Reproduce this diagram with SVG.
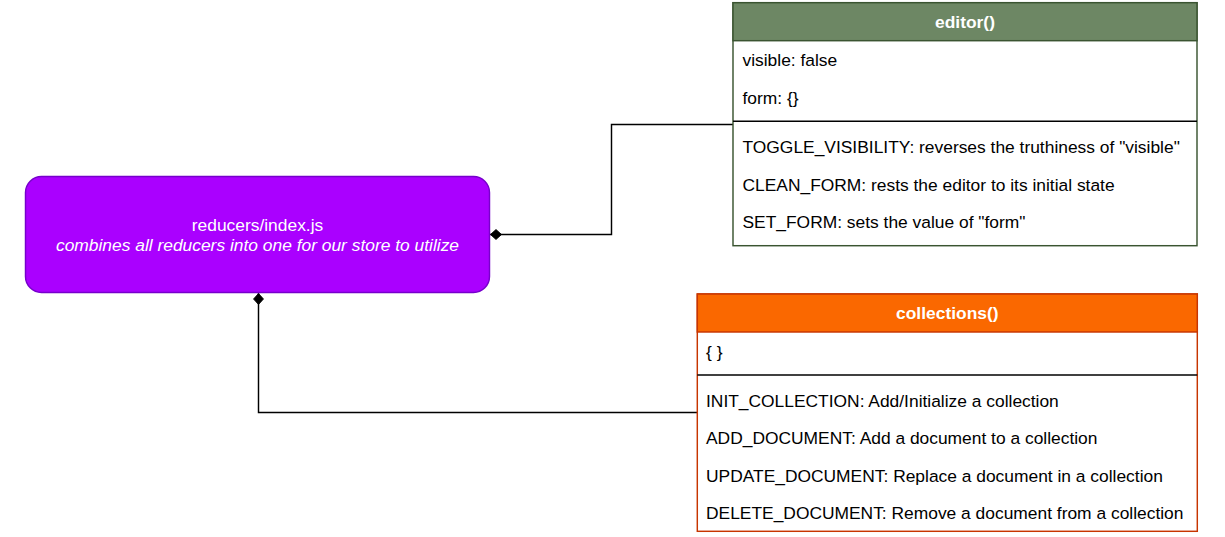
<svg xmlns="http://www.w3.org/2000/svg" width="1225" height="537" viewBox="0 0 1225 537">
<style>
text{font-family:"Liberation Sans",Arial,Helvetica,sans-serif;font-size:17.4px;fill:#000}
.hd{font-weight:bold;fill:#fff;text-anchor:middle}
.wt{fill:#fff;text-anchor:middle}
.it{font-style:italic}
.conn{fill:none;stroke:#000;stroke-width:1.45}
.sep{stroke:#000;stroke-width:1.45}
</style>
<defs>
<marker id="dia" markerUnits="userSpaceOnUse" markerWidth="14" markerHeight="12" refX="0" refY="6" orient="auto" viewBox="0 0 14 12">
<path d="M0.4,6 L6,1 L11.6,6 L6,11 Z" fill="#000" stroke="#000" stroke-width="0.8"/>
</marker>
</defs>
<rect width="1225" height="537" fill="#fff"/>
<g id="connectors">
<path class="conn" d="M490,234.5 H611.5 V124.5 H733" marker-start="url(#dia)"/>
<path class="conn" d="M258.5,293 V412.5 H697" marker-start="url(#dia)"/>
</g>
<g id="reducers">
<rect x="25.5" y="176.5" width="464" height="116" rx="16" ry="16" fill="#aa00ff" stroke="#7700cc" stroke-width="1.45"/>
<text class="wt" x="257.5" y="231">reducers/index.js</text>
<text class="wt it" x="257.5" y="251">combines all reducers into one for our store to utilize</text>
</g>
<g id="editor">
<rect x="733" y="2.7" width="464" height="243" fill="#fff" stroke="#3a5431" stroke-width="1.45"/>
<rect x="733" y="2.7" width="464" height="38" fill="#6d8764" stroke="#3a5431" stroke-width="1.45"/>
<text class="hd" x="965" y="28.3">editor()</text>
<text x="742.5" y="65.7">visible: false</text>
<text x="742.5" y="104.3">form: {}</text>
<line class="sep" x1="733" y1="121.2" x2="1197" y2="121.2"/>
<text x="742.5" y="152.7">TOGGLE_VISIBILITY: reverses the truthiness of "visible"</text>
<text x="742.5" y="190.7">CLEAN_FORM: rests the editor to its initial state</text>
<text x="742.5" y="227.7">SET_FORM: sets the value of "form"</text>
</g>
<g id="collections">
<rect x="697.3" y="294" width="500" height="237.3" fill="#fff" stroke="#c73500" stroke-width="1.45"/>
<rect x="697.3" y="294" width="500" height="38" fill="#fa6800" stroke="#c73500" stroke-width="1.45"/>
<text class="hd" x="947.3" y="319.3">collections()</text>
<text x="706" y="358.3">{ }</text>
<line class="sep" x1="697.3" y1="375" x2="1197.3" y2="375"/>
<text x="706" y="406.7">INIT_COLLECTION: Add/Initialize a collection</text>
<text x="706" y="444.3">ADD_DOCUMENT: Add a document to a collection</text>
<text x="706" y="481.8">UPDATE_DOCUMENT: Replace a document in a collection</text>
<text x="706" y="519.3">DELETE_DOCUMENT: Remove a document from a collection</text>
</g>
</svg>
